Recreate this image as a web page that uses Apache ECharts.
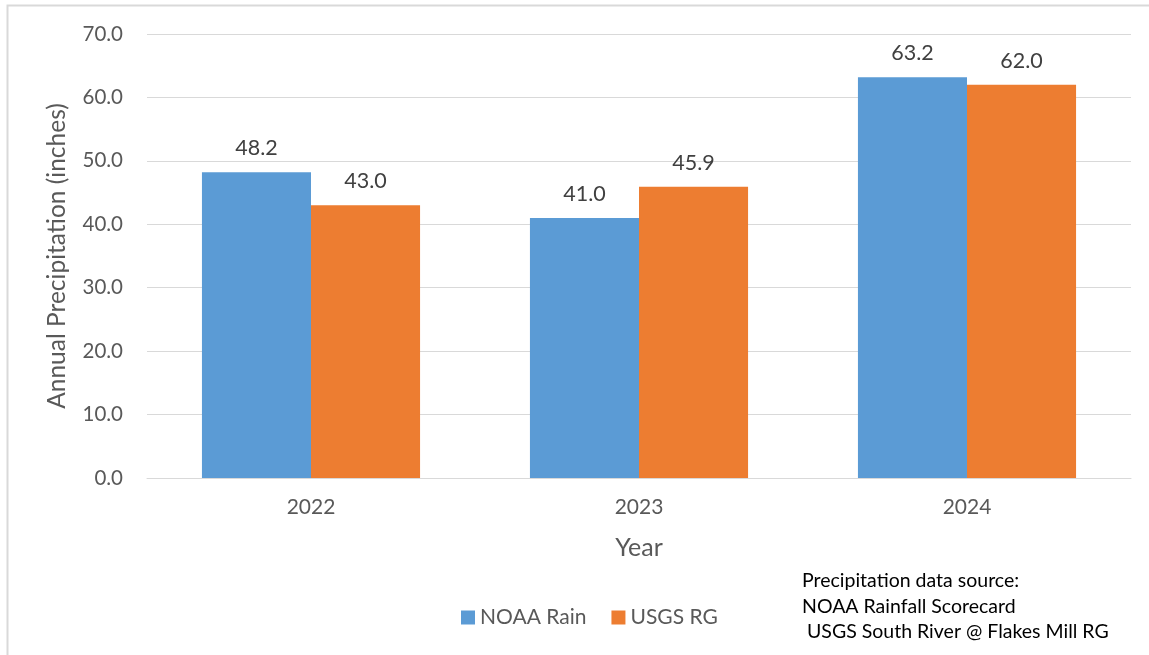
<!DOCTYPE html>
<html><head><meta charset="utf-8">
<script src="https://cdn.jsdelivr.net/npm/echarts@6/dist/echarts.min.js"></script>
<style>html,body{margin:0;padding:0;background:#fff}#c{width:1149px;height:655px}</style>
</head><body><div id="c"></div>
<script>
const years = ['2022', '2023', '2024'];
const noaaRain = [48.2, 41.0, 63.2];
const usgsRG = [43.0, 45.9, 62.0];
const yTicks = [0, 10, 20, 30, 40, 50, 60, 70];
const sourceLines = ['Precipitation data source:', 'NOAA Rainfall Scorecard', ' USGS South River @ Flakes Mill RG'];

const FONT = 'Lato, "Open Sans", sans-serif';
const chart = echarts.init(document.getElementById('c'), null, {renderer: 'canvas'});
const lbl = {show: true, position: 'top', distance: 13, color: '#404040', fontSize: 21.5, fontFamily: FONT,
  formatter: p => p.value.toFixed(1)};
chart.setOption({
  animation: false,
  textStyle: {fontFamily: FONT},
  grid: {left: 147, right: 18, top: 34, bottom: 177},
  legend: {
    data: ['NOAA Rain', 'USGS RG'], left: 461, top: 607, padding: 0, icon: 'rect', itemWidth: 14, itemHeight: 14,
    itemGap: 25, textStyle: {color: '#595959', fontSize: 21, fontFamily: FONT}
  },
  xAxis: {
    type: 'category', data: years, name: 'Year', nameLocation: 'middle', nameGap: 57,
    nameTextStyle: {color: '#595959', fontSize: 25, fontFamily: FONT},
    axisLine: {lineStyle: {color: '#d9d9d9', width: 1}}, axisTick: {show: false},
    axisLabel: {color: '#595959', fontSize: 21, margin: 19, fontFamily: FONT}
  },
  yAxis: {
    type: 'value', min: 0, max: 70, interval: 10,
    name: 'Annual Precipitation (inches)', nameLocation: 'middle', nameGap: 77,
    nameTextStyle: {color: '#595959', fontSize: 24.5, fontFamily: FONT},
    axisLine: {show: false}, axisTick: {show: false},
    axisLabel: {color: '#595959', fontSize: 20.5, margin: 24, fontFamily: FONT,
      formatter: v => yTicks.includes(v) ? v.toFixed(1) : ''},
    splitLine: {lineStyle: {color: '#d9d9d9', width: 1}}
  },
  series: [
    {name: 'NOAA Rain', type: 'bar', data: noaaRain, barGap: '0%', barCategoryGap: '33.5%',
      itemStyle: {color: '#5B9BD5'}, label: lbl},
    {name: 'USGS RG', type: 'bar', data: usgsRG, barGap: '0%', barCategoryGap: '33.5%',
      itemStyle: {color: '#ED7D31'}, label: lbl}
  ],
  graphic: [
    {type: 'rect', shape: {x: 7.5, y: 5.5, width: 1160, height: 700}, silent: true,
      style: {fill: 'none', stroke: '#d9d9d9', lineWidth: 2}},
    {type: 'text', left: 802, top: 568, silent: true,
      style: {text: sourceLines.join('\n'), fill: '#000', fontSize: 19.5, lineHeight: 25.5, fontFamily: FONT}}
  ]
});
</script></body></html>
